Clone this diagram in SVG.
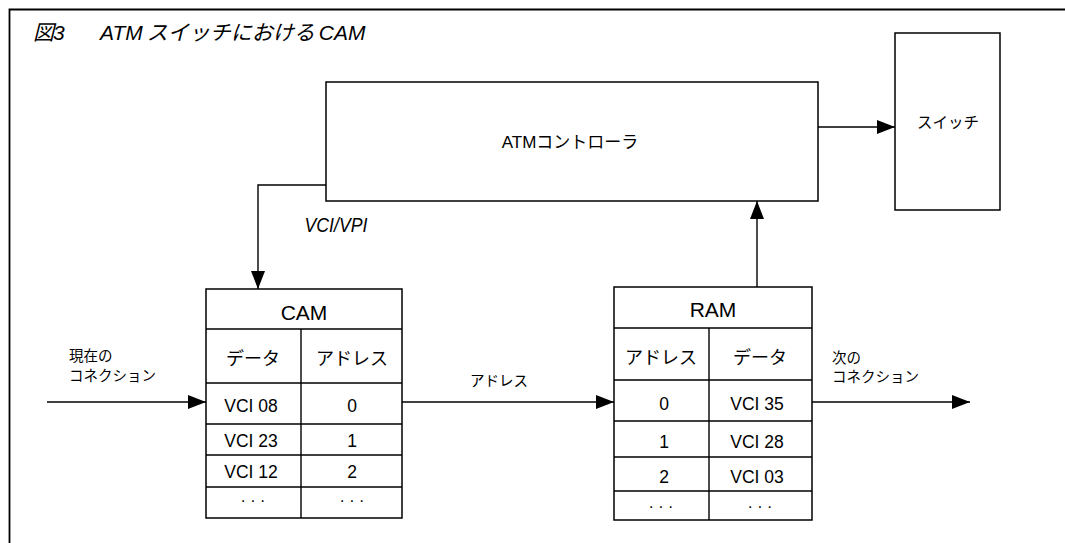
<svg xmlns="http://www.w3.org/2000/svg" width="1065" height="543" viewBox="0 0 1065 543">
<defs>
<marker id="ah" markerWidth="18" markerHeight="14" refX="18" refY="7" orient="auto" markerUnits="userSpaceOnUse">
<path d="M0,0 L18,7 L0,14 Z" fill="#000"/>
</marker>
</defs>
<style>
.box{fill:#fff;stroke:#000;stroke-width:1.5}
.ln{fill:none;stroke:#000;stroke-width:1.4}
.t{font-family:"Liberation Sans","Noto Sans CJK JP",sans-serif;fill:#000;text-anchor:middle}
.j{font-family:"Noto Sans CJK JP","Liberation Sans",sans-serif;fill:#000}
.m{font-size:17.5px}
.s{font-size:14.5px}
.d{font-size:16px}
</style>
<rect width="1065" height="543" fill="#fff"/>
<g id="frame">
<path d="M1065,9.5 H9.5 V543" fill="none" stroke="#000" stroke-width="1.8"/>
<text y="40" font-size="21" font-style="italic" fill="#000"><tspan x="33" font-family="Noto Sans CJK JP, sans-serif">図</tspan><tspan x="53" font-family="Liberation Sans, sans-serif">3</tspan><tspan x="100" font-family="Liberation Sans, sans-serif">ATM</tspan><tspan dx="4" font-family="Noto Sans CJK JP, sans-serif">スイッチにおける</tspan><tspan dx="4" font-family="Liberation Sans, sans-serif">CAM</tspan></text>
</g>
<g id="connectors">
<path class="ln" d="M326,185 H258 V289" marker-end="url(#ah)"/>
<path class="ln" d="M818,127 H895" marker-end="url(#ah)"/>
<path class="ln" d="M757,287 V201" marker-end="url(#ah)"/>
<path class="ln" d="M47,402 H206" marker-end="url(#ah)"/>
<path class="ln" d="M402,402 H614" marker-end="url(#ah)"/>
<path class="ln" d="M812,402 H970" marker-end="url(#ah)"/>
<text x="336" y="232" class="t" font-size="20" font-style="italic" textLength="63" lengthAdjust="spacingAndGlyphs">VCI/VPI</text>
<text x="470" y="386" class="j s">アドレス</text>
<text x="69" y="361" class="j s">現在の</text>
<text x="69" y="381" class="j s">コネクション</text>
<text x="832" y="363" class="j s">次の</text>
<text x="832" y="382" class="j s">コネクション</text>
</g>
<g id="atm-controller">
<rect class="box" x="326" y="82" width="492" height="119"/>
<text x="570" y="148" class="t" font-size="17">ATMコントローラ</text>
</g>
<g id="switch">
<rect class="box" x="895" y="33" width="105" height="177"/>
<text x="948" y="128" class="t" font-size="15.5">スイッチ</text>
</g>
<g id="cam">
<rect class="box" x="206" y="289" width="196" height="229"/>
<path class="ln" d="M206,329 H402 M206,383 H402 M206,424 H402 M206,455 H402 M206,487 H402 M301,329 V518"/>
<text x="304" y="320" class="t" font-size="21">CAM</text>
<text x="253" y="365" class="t" font-size="18">データ</text>
<text x="352" y="365" class="t" font-size="18">アドレス</text>
<text x="251" y="412" class="t m">VCI 08</text>
<text x="352" y="412" class="t m">0</text>
<text x="251" y="447" class="t m">VCI 23</text>
<text x="352" y="447" class="t m">1</text>
<text x="251" y="478" class="t m">VCI 12</text>
<text x="352" y="478" class="t m">2</text>
<text x="253" y="506" class="t d">· · ·</text>
<text x="352" y="506" class="t d">· · ·</text>
</g>
<g id="ram">
<rect class="box" x="614" y="287" width="198" height="233"/>
<path class="ln" d="M614,328 H812 M614,380 H812 M614,421 H812 M614,457 H812 M614,491 H812 M709,328 V520"/>
<text x="713" y="317" class="t" font-size="21">RAM</text>
<text x="661" y="364" class="t" font-size="18">アドレス</text>
<text x="760" y="364" class="t" font-size="18">データ</text>
<text x="664" y="410" class="t m">0</text>
<text x="757" y="410" class="t m">VCI 35</text>
<text x="664" y="448" class="t m">1</text>
<text x="757" y="448" class="t m">VCI 28</text>
<text x="664" y="483" class="t m">2</text>
<text x="757" y="483" class="t m">VCI 03</text>
<text x="661" y="512" class="t d">· · ·</text>
<text x="760" y="512" class="t d">· · ·</text>
</g>
</svg>
